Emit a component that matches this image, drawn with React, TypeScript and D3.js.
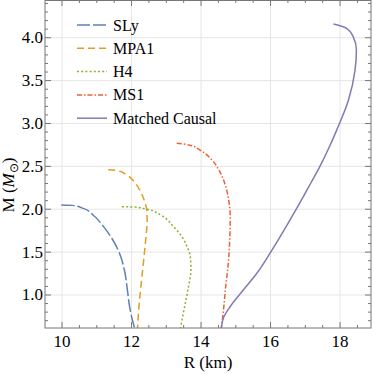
import React, { useRef, useEffect } from "react";
import * as d3 from "d3";

// [R (km), M (Msun)]
const slyCurve = [
  [9.98, 2.05], [10.3, 2.045], [10.61, 2.01], [10.9, 1.93], [11.19, 1.8],
  [11.45, 1.65], [11.67, 1.47], [11.8, 1.28], [11.88, 1.06], [11.95, 0.85],
  [12.03, 0.7], [12.1, 0.6],
];
const mpa1Curve = [
  [11.33, 2.46], [11.6, 2.45], [11.86, 2.4], [12.08, 2.32], [12.24, 2.22],
  [12.37, 2.1], [12.44, 1.98], [12.45, 1.85], [12.42, 1.7], [12.36, 1.45],
  [12.29, 1.175], [12.22, 0.9], [12.17, 0.6],
];
const h4Curve = [
  [11.72, 2.03], [12.1, 2.025], [12.44, 2.0], [12.85, 1.93], [13.2, 1.8],
  [13.45, 1.68], [13.59, 1.57], [13.69, 1.45], [13.71, 1.3], [13.64, 1.1],
  [13.52, 0.85], [13.4, 0.6],
];
const ms1Curve = [
  [13.3, 2.77], [13.65, 2.75], [13.97, 2.69], [14.3, 2.58], [14.55, 2.43],
  [14.72, 2.25], [14.81, 2.07], [14.84, 1.9], [14.83, 1.7], [14.79, 1.4],
  [14.7, 1.06], [14.64, 0.8], [14.58, 0.6],
];
const causalCurve = [
  [14.58, 0.6], [14.64, 0.73], [14.83, 0.86], [15.22, 1.06], [15.6, 1.25],
  [15.99, 1.49], [16.38, 1.75], [16.78, 2.03], [17.15, 2.3], [17.42, 2.5],
  [17.66, 2.7], [17.9, 2.92], [18.24, 3.27], [18.43, 3.62], [18.47, 3.86],
  [18.38, 4.01], [18.19, 4.11], [17.81, 4.16],
];

const seriesNames = ["SLy", "MPA1", "H4", "MS1", "Matched Causal"];
const seriesData = [slyCurve, mpa1Curve, h4Curve, ms1Curve, causalCurve];
const seriesColors = ["#5E81B5", "#E19C24", "#8FB032", "#EB6235", "#8778B3"];
const seriesDash = ["13,3", "7,4", "2,2.2", "5,2,1.5,2", null];

const xTicks = [10, 12, 14, 16, 18];
const yTicks = [1.0, 1.5, 2.0, 2.5, 3.0, 3.5, 4.0];

const App = () => {
  const ref = useRef(null);

  useEffect(() => {
    const svg = d3.select(ref.current);
    svg.selectAll("*").remove();

    const left = 45, right = 371, top = 0, bottom = 328;
    const x = d3.scaleLinear().domain([9.51, 18.89]).range([left, right]);
    const y = d3.scaleLinear().domain([0.615, 4.44]).range([bottom, top]);
    const font = "Liberation Serif";
    const frameColor = "#777";

    // grid
    svg.append("g")
      .selectAll("line")
      .data(xTicks)
      .enter()
      .append("line")
      .attr("x1", (d) => x(d)).attr("x2", (d) => x(d))
      .attr("y1", top).attr("y2", bottom)
      .attr("stroke", "#e6e6e6");
    svg.append("g")
      .selectAll("line")
      .data(yTicks)
      .enter()
      .append("line")
      .attr("x1", left).attr("x2", right)
      .attr("y1", (d) => y(d)).attr("y2", (d) => y(d))
      .attr("stroke", "#e6e6e6");

    // curves
    svg.append("clipPath").attr("id", "plotclip")
      .append("rect")
      .attr("x", left).attr("y", top)
      .attr("width", right - left).attr("height", bottom - top);

    // every curve is monotone in M, so interpolate R as a function of M
    const line = d3.line()
      .x((d) => x(d[0]))
      .y((d) => y(d[1]))
      .curve(d3.curveMonotoneY);

    const curves = svg.append("g").attr("clip-path", "url(#plotclip)");
    seriesData.forEach((data, i) => {
      curves.append("path")
        .attr("d", line(data))
        .attr("fill", "none")
        .attr("stroke", seriesColors[i])
        .attr("stroke-width", 1.5)
        .attr("stroke-dasharray", seriesDash[i]);
    });

    // frame
    svg.append("rect")
      .attr("x", left).attr("y", top + 0.5)
      .attr("width", right - left).attr("height", bottom - top - 0.5)
      .attr("fill", "none")
      .attr("stroke", frameColor);

    // ticks on all four sides
    const xMinor = d3.range(9.5, 19, 0.5).filter((v) => x(v) > left && x(v) < right);
    const yMinor = d3.range(0.7, 4.45, 0.1).filter((v) => y(v) > top && y(v) < bottom);
    const tickG = svg.append("g").attr("stroke", frameColor);
    xMinor.forEach((v) => {
      const major = Math.abs(v / 2 - Math.round(v / 2)) < 1e-6;
      const len = major ? 6 : 3;
      tickG.append("line").attr("x1", x(v)).attr("x2", x(v))
        .attr("y1", bottom).attr("y2", bottom - len);
      tickG.append("line").attr("x1", x(v)).attr("x2", x(v))
        .attr("y1", top).attr("y2", top + len);
    });
    yMinor.forEach((v) => {
      const major = Math.abs(v * 2 - Math.round(v * 2)) < 1e-6;
      const len = major ? 6 : 3;
      tickG.append("line").attr("y1", y(v)).attr("y2", y(v))
        .attr("x1", left).attr("x2", left + len);
      tickG.append("line").attr("y1", y(v)).attr("y2", y(v))
        .attr("x1", right).attr("x2", right - len);
    });

    // tick labels
    svg.append("g")
      .selectAll("text")
      .data(xTicks)
      .enter()
      .append("text")
      .attr("x", (d) => x(d))
      .attr("y", 347)
      .attr("text-anchor", "middle")
      .attr("font-family", font)
      .attr("font-size", 17)
      .text((d) => d);
    svg.append("g")
      .selectAll("text")
      .data(yTicks)
      .enter()
      .append("text")
      .attr("x", 43)
      .attr("y", (d) => y(d) + 5.5)
      .attr("text-anchor", "end")
      .attr("font-family", font)
      .attr("font-size", 17)
      .text((d) => d.toFixed(1));

    // axis titles
    svg.append("text")
      .attr("x", (left + right) / 2)
      .attr("y", 368)
      .attr("text-anchor", "middle")
      .attr("font-family", font)
      .attr("font-size", 17)
      .text("R (km)");

    const yt = svg.append("text")
      .attr("transform", "translate(14,185) rotate(-90)")
      .attr("text-anchor", "middle")
      .attr("font-family", font)
      .attr("font-size", 17);
    yt.append("tspan").text("M (");
    yt.append("tspan").attr("font-style", "italic").text("M");
    yt.append("tspan").attr("dy", 4).attr("font-size", 12).text("\u2299");
    yt.append("tspan").attr("dy", -4).text(")");

    // legend
    const legend = svg.append("g");
    seriesNames.forEach((name, i) => {
      const ly = 25 + i * 23.3;
      legend.append("line")
        .attr("x1", 77).attr("x2", 107)
        .attr("y1", ly).attr("y2", ly)
        .attr("stroke", seriesColors[i])
        .attr("stroke-width", 1.5)
        .attr("stroke-dasharray", seriesDash[i]);
      legend.append("text")
        .attr("x", 113)
        .attr("y", ly + 5.5)
        .attr("font-family", font)
        .attr("font-size", 16)
        .text(name);
    });
  }, []);

  return (
    <svg
      ref={ref}
      width={374}
      height={374}
      style={{ position: "absolute", left: 0, top: 0, background: "#fff" }}
    />
  );
};

export default App;
